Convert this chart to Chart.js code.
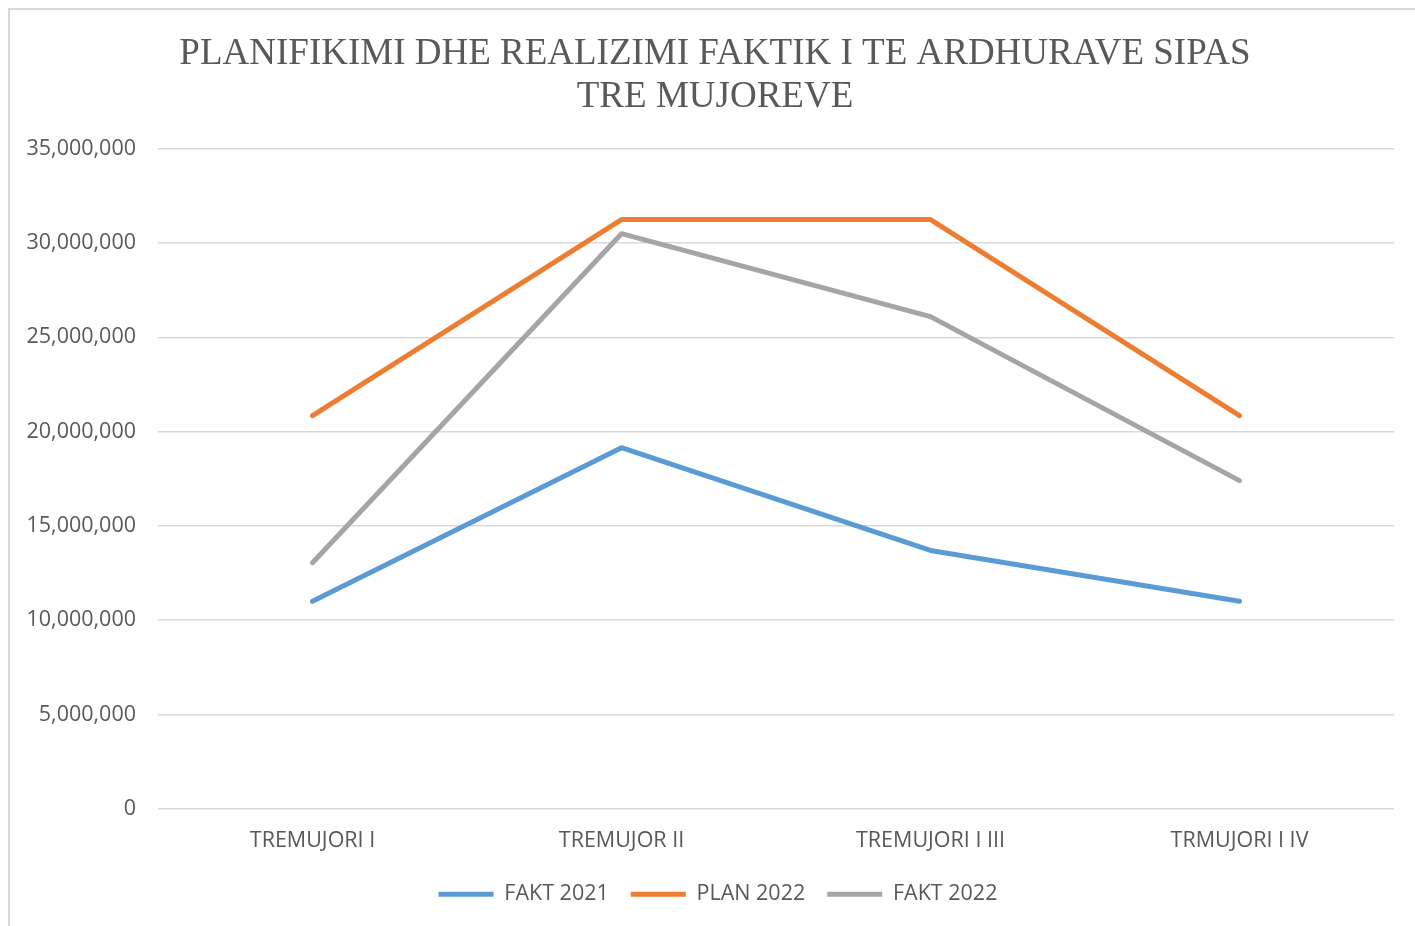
<!DOCTYPE html>
<html>
<head>
<meta charset="utf-8">
<script src="https://cdn.jsdelivr.net/npm/chart.js@4"></script>
<style>
  html, body { margin: 0; padding: 0; background: #fff; }
  #wrap { position: relative; width: 1415px; height: 926px; }
  #frame { position: absolute; left: 8px; top: 8px; width: 1420px; height: 930px;
           border-left: 2px solid #d9d9d9; border-top: 2px solid #d9d9d9; }
  canvas { position: absolute; left: 0; top: 0; }
</style>
</head>
<body>
<div id="wrap">
  <div id="frame"></div>
  <canvas id="chart" width="1415" height="926"></canvas>
</div>
<script>
    // Te dhenat e grafikut
    const categories = ['TREMUJORI I', 'TREMUJOR II', 'TREMUJORI I III', 'TRMUJORI I IV'];
    const fakt2021 = [11000000, 19150000, 13700000, 11000000];
    const plan2022 = [20850000, 31250000, 31250000, 20850000];
    const fakt2022 = [13050000, 30500000, 26100000, 17400000];
    const titleLines = ['PLANIFIKIMI DHE REALIZIMI FAKTIK I TE ARDHURAVE SIPAS', 'TRE MUJOREVE'];

    const textColor = '#595959';
    const gridColor = '#d9d9d9';
    const sansFont = '"Open Sans", sans-serif';

    function lineSet(label, data, color) {
        return {
            label: label,
            data: data,
            borderColor: color,
            backgroundColor: color,
            borderWidth: 5,
            borderCapStyle: 'round',
            borderJoinStyle: 'round',
            pointRadius: 0,
            pointHoverRadius: 0,
            tension: 0
        };
    }

    // titulli dhe legjenda centrohen mbi zonen e grafikut, jo mbi gjithe kanavacen
    const shiftBoxes = {
        id: 'shiftBoxes',
        afterLayout(chart) {
            chart.titleBlock.left += 36;
            chart.legend.left += 42;
        }
    };

    const ctx = document.getElementById('chart').getContext('2d');
    new Chart(ctx, {
        type: 'line',
        data: {
            labels: categories,
            datasets: [
                lineSet('FAKT 2021', fakt2021, '#5b9bd5'),
                lineSet('PLAN 2022', plan2022, '#ed7d31'),
                lineSet('FAKT 2022', fakt2022, '#a5a5a5')
            ]
        },
        plugins: [shiftBoxes],
        options: {
            responsive: false,
            animation: false,
            layout: { padding: { left: 0, right: 21, top: 0, bottom: 11 } },
            plugins: {
                title: {
                    display: true,
                    text: titleLines,
                    color: textColor,
                    font: { family: '"Liberation Serif", serif', size: 37, weight: 'normal', lineHeight: 1.16 },
                    padding: { top: 33, bottom: 30 }
                },
                legend: {
                    position: 'bottom',
                    labels: {
                        color: textColor,
                        font: { family: sansFont, size: 21.5 },
                        usePointStyle: true,
                        pointStyle: 'line',
                        pointStyleWidth: 55,
                        padding: 22
                    }
                },
                tooltip: { enabled: false }
            },
            scales: {
                x: {
                    offset: true,
                    grid: { display: false, drawTicks: false },
                    border: { display: false },
                    ticks: {
                        color: textColor,
                        font: { family: sansFont, size: 21.5 },
                        padding: 19,
                        maxRotation: 0
                    },
                    afterFit: scale => { scale.height -= 11; }
                },
                y: {
                    min: 0,
                    max: 35000000,
                    grid: { color: gridColor, lineWidth: 1.5, drawTicks: false },
                    border: { display: false },
                    ticks: {
                        stepSize: 5000000,
                        color: textColor,
                        font: { family: sansFont, size: 21.5 },
                        padding: 22,
                        callback: v => v.toLocaleString('en-US')
                    },
                    afterFit: scale => { scale.width = 158; }
                }
            }
        }
    });
</script>
</body>
</html>
